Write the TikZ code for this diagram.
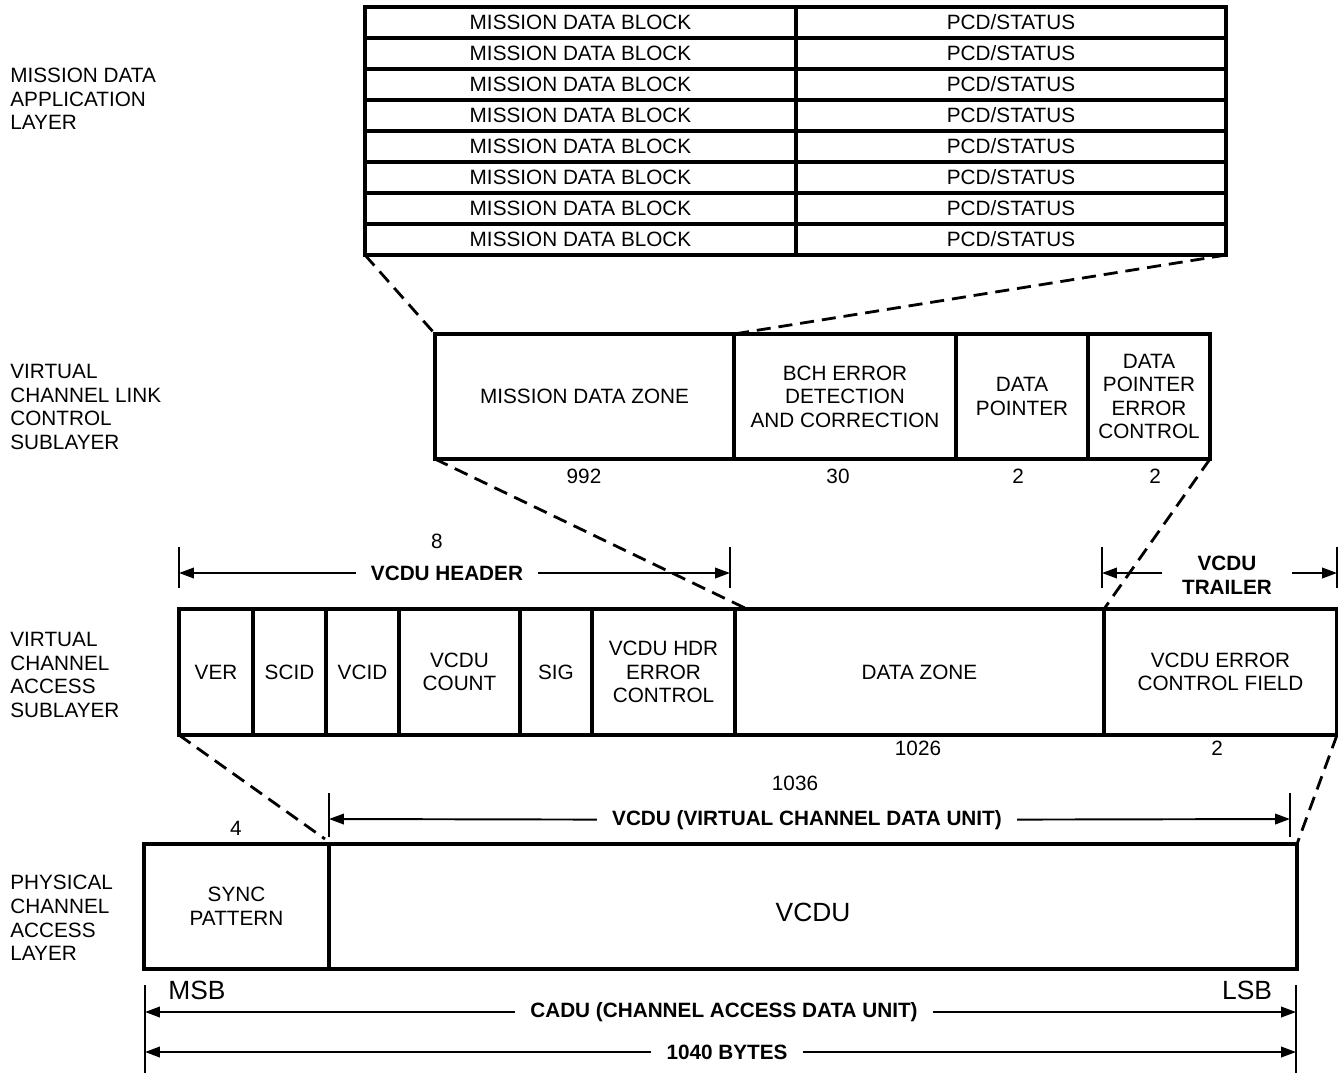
\documentclass[tikz,border=0pt]{standalone}
\usepackage{fontspec}
\setmainfont{Liberation Sans}
\usetikzlibrary{arrows.meta}

\begin{document}
\begin{tikzpicture}[x=0.02cm,y=-0.02cm,>={Triangle[length=8.5pt,width=6pt]},
    font=\fontsize{11.8}{13.4}\selectfont,
    fld/.style={draw,line width=1.8pt,inner sep=0pt,outer sep=0pt,anchor=north west,align=center},
    cut/.style={line width=1.6pt,dash pattern=on 8pt off 4.5pt},
    dim/.style={->,line width=1.1pt},
    tick/.style={line width=1.1pt},
    lbl/.style={font=\fontsize{11.8}{13.4}\selectfont\bfseries,inner xsep=8.5pt,inner ysep=0pt,align=center},
    num/.style={inner sep=0pt},
    big/.style={font=\fontsize{15}{18}\selectfont,inner sep=0pt},
    layer/.style={anchor=west,align=left,inner sep=0pt}]
    \def\pxu{0.02cm}
    \useasboundingbox (0,0) rectangle (1338,1073);
    %\draw[color=gray!50,dashed] (0,0) grid (1338,1073);
    % layer names
    \node[layer] (lapp) at (10,99) {MISSION DATA\\APPLICATION\\LAYER};
    \node[layer] (lvclc) at (10,407) {VIRTUAL\\CHANNEL LINK\\CONTROL\\SUBLAYER};
    \node[layer] (lvcas) at (10,675) {VIRTUAL\\CHANNEL\\ACCESS\\SUBLAYER};
    \node[layer] (lphy) at (10,918) {PHYSICAL\\CHANNEL\\ACCESS\\LAYER};
    % mission data application layer
    \foreach \i in {1,...,8} {
        \node[fld,minimum width=431*\pxu,minimum height=31*\pxu] (mdb\i) at (365,{7+31*(\i-1)}) {MISSION DATA BLOCK};
        \node[fld,minimum width=430*\pxu,minimum height=31*\pxu] (pcd\i) at (796,{7+31*(\i-1)}) {PCD/STATUS};
    }
    % virtual channel link control sublayer
    \node[fld,minimum width=299*\pxu,minimum height=125*\pxu] (mdz) at (435,334) {MISSION DATA ZONE};
    \node[fld,minimum width=222*\pxu,minimum height=125*\pxu] (bch) at (734,334) {BCH ERROR\\DETECTION\\AND CORRECTION};
    \node[fld,minimum width=132*\pxu,minimum height=125*\pxu] (dp) at (956,334) {DATA\\POINTER};
    \node[fld,minimum width=122*\pxu,minimum height=125*\pxu] (dpec) at (1088,334) {DATA\\POINTER\\ERROR\\CONTROL};
    \node[num] (nmdz) at (584,476) {992};
    \node[num] (nbch) at (838,476) {30};
    \node[num] (ndp) at (1018,476) {2};
    \node[num] (ndpec) at (1155,476) {2};
    % virtual channel access sublayer
    \node[fld,minimum width=74*\pxu,minimum height=126*\pxu] (ver) at (179,609) {VER};
    \node[fld,minimum width=73*\pxu,minimum height=126*\pxu] (scid) at (253,609) {SCID};
    \node[fld,minimum width=73*\pxu,minimum height=126*\pxu] (vcid) at (326,609) {VCID};
    \node[fld,minimum width=121*\pxu,minimum height=126*\pxu] (cnt) at (399,609) {VCDU\\COUNT};
    \node[fld,minimum width=72*\pxu,minimum height=126*\pxu] (sig) at (520,609) {SIG};
    \node[fld,minimum width=143*\pxu,minimum height=126*\pxu] (hec) at (592,609) {VCDU HDR\\ERROR\\CONTROL};
    \node[fld,minimum width=369*\pxu,minimum height=126*\pxu] (dz) at (735,609) {DATA ZONE};
    \node[fld,minimum width=233*\pxu,minimum height=126*\pxu] (ecf) at (1104,609) {VCDU ERROR\\CONTROL FIELD};
    \node[num] (ndz) at (918,748) {1026};
    \node[num] (necf) at (1217,748) {2};
    % physical channel access layer
    \node[fld,minimum width=185*\pxu,minimum height=125*\pxu] (sync) at (144,844) {SYNC\\PATTERN};
    \node[fld,minimum width=968*\pxu,minimum height=125*\pxu] (vcdu) at (329,844) {};
    \node[big] (tvcdu) at (813,912) {VCDU};
    \node[num] (nsync) at (236,828) {4};
    \node[big] (msb) at (197,990) {MSB};
    \node[big] (lsb) at (1247,990) {LSB};
    % expansion lines
    \draw[cut] (mdb8.south west) -- (mdz.north west);
    \draw[cut] (pcd8.south east) -- (bch.north west);
    \draw[cut] (mdz.south west) -- ([xshift=12*\pxu]dz.north west);
    \draw[cut] (dpec.south east) -- (ecf.north west);
    \draw[cut] (ver.south west) -- ([xshift=-4*\pxu,yshift=5*\pxu]sync.north east);
    \draw[cut] (ecf.south east) -- (vcdu.north east);
    % vcdu header
    \draw[tick] (179,547) -- (179,588);
    \draw[tick] (730,547) -- (730,588);
    \coordinate (hdrL) at (179,573);
    \coordinate (hdrR) at (730,573);
    \node[num] (n8) at (437,541) {8};
    \node[lbl] (hdr) at (447,573) {VCDU HEADER};
    \draw[dim] (hdr) -- (hdrL);
    \draw[dim] (hdr) -- (hdrR);
    % vcdu trailer
    \draw[tick] (1102,547) -- (1102,588);
    \draw[tick] (1337,547) -- (1337,588);
    \coordinate (trlL) at (1102,573);
    \coordinate (trlR) at (1337,573);
    \node[lbl,inner xsep=11pt] (trl) at (1227,575) {VCDU\\TRAILER};
    \draw[dim] (trl.west |- trlL) -- (trlL);
    \draw[dim] (trl.east |- trlR) -- (trlR);
    % vcdu
    \draw[tick] (329,793) -- (329,837);
    \draw[tick] (1290,793) -- (1290,837);
    \coordinate (vcL) at (329,819);
    \coordinate (vcR) at (1290,819);
    \node[num] (n1036) at (795,783) {1036};
    \node[lbl] (vc) at (807,820) {VCDU (VIRTUAL CHANNEL DATA UNIT)};
    \draw[dim] (vc) -- (vcL);
    \draw[dim] (vc) -- (vcR);
    % cadu
    \draw[tick] (145,985) -- (145,1073);
    \draw[tick] (1296,985) -- (1296,1073);
    \coordinate (caL) at (145,1012);
    \coordinate (caR) at (1296,1012);
    \coordinate (byL) at (145,1052);
    \coordinate (byR) at (1296,1052);
    \node[lbl] (ca) at (724,1012) {CADU (CHANNEL ACCESS DATA UNIT)};
    \node[lbl] (by) at (727,1052) {1040 BYTES};
    \draw[dim] (ca) -- (caL);
    \draw[dim] (ca) -- (caR);
    \draw[dim] (by) -- (byL);
    \draw[dim] (by) -- (byR);
\end{tikzpicture}
\end{document}
